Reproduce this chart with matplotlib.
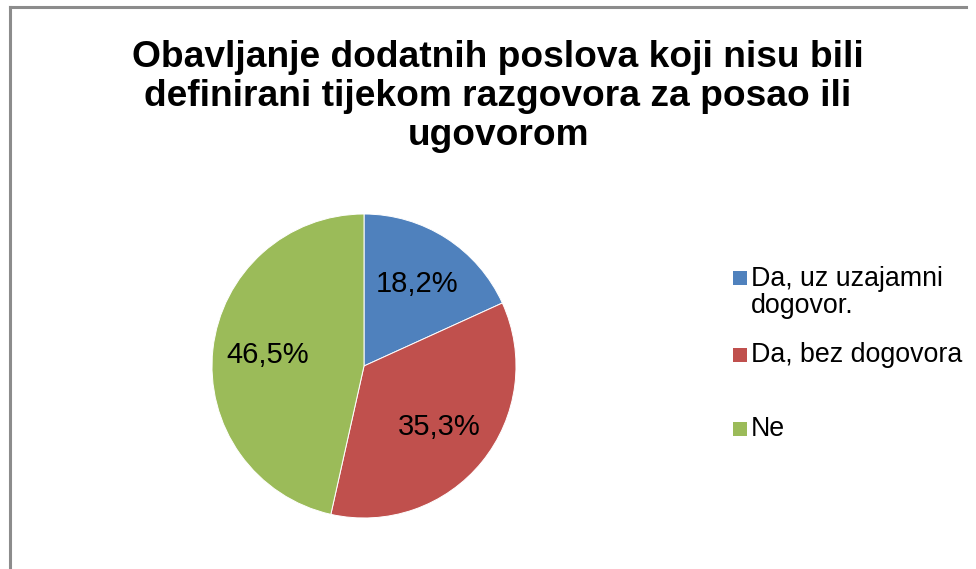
import matplotlib
matplotlib.use('Agg')
from matplotlib import pyplot as plt
from matplotlib.lines import Line2D
from matplotlib.patches import Rectangle

plt.rcParams['font.family'] = ['Liberation Sans', 'DejaVu Sans']

title = 'Obavljanje dodatnih poslova koji nisu bili\ndefinirani tijekom razgovora za posao ili\nugovorom'
categories = ['Da, uz uzajamni\ndogovor.', 'Da, bez dogovora', 'Ne']
shares = [18.2, 35.3, 46.5]
colors = ['#4F81BD', '#C0504D', '#9BBB59']

W, H = 976, 569
fig = plt.figure(figsize=(W / 100, H / 100), dpi=100)

# chart frame (only top and left edges show)
frame_kw = dict(color='#8c8c8c', linewidth=2.2, transform=fig.transFigure)
fig.add_artist(Line2D([10 / W, 966 / W], [1 - 7 / H, 1 - 7 / H], **frame_kw))
fig.add_artist(Line2D([10 / W, 10 / W], [0, 1 - 7 / H], **frame_kw))

# baseline of the last title line sits at y = 145 px
fig.text(498 / W, 1 - 145 / H, title, ha='center', va='baseline',
         fontsize=26.7, fontweight='bold', linespacing=1.14)

# pie, centred at (364, 366) px with radius 152 px
cx, cy, r = 364, 366, 152
ax = fig.add_axes([(cx - r) / W, (H - cy - r) / H, 2 * r / W, 2 * r / H])
wedges, _, autotexts = ax.pie(
    shares, colors=colors, startangle=90, counterclock=False,
    autopct=lambda p: f'{p:.1f}%'.replace('.', ','), pctdistance=0.64,
    wedgeprops=dict(edgecolor='white', linewidth=0.7),
    textprops=dict(fontsize=21, color='black'))
ax.set_xlim(-1, 1)
ax.set_ylim(-1, 1)
ax.set_aspect('equal')
ax.axis('off')

# legend drawn by hand, Excel-style spacing
legend_y = [285, 362, 436]   # first-line baselines (px from top)
line_h = 28
for col, lab, yb in zip(colors, categories, legend_y):
    fig.add_artist(Rectangle((733 / W, 1 - yb / H), 14 / W, 14 / H,
                             facecolor=col, edgecolor='none',
                             transform=fig.transFigure))
    n_extra = lab.count('\n')
    fig.text(751 / W, 1 - (yb + line_h * n_extra) / H, lab, ha='left',
             va='baseline', fontsize=19.3, linespacing=1.06)

fig.savefig('out.png', dpi=100)
